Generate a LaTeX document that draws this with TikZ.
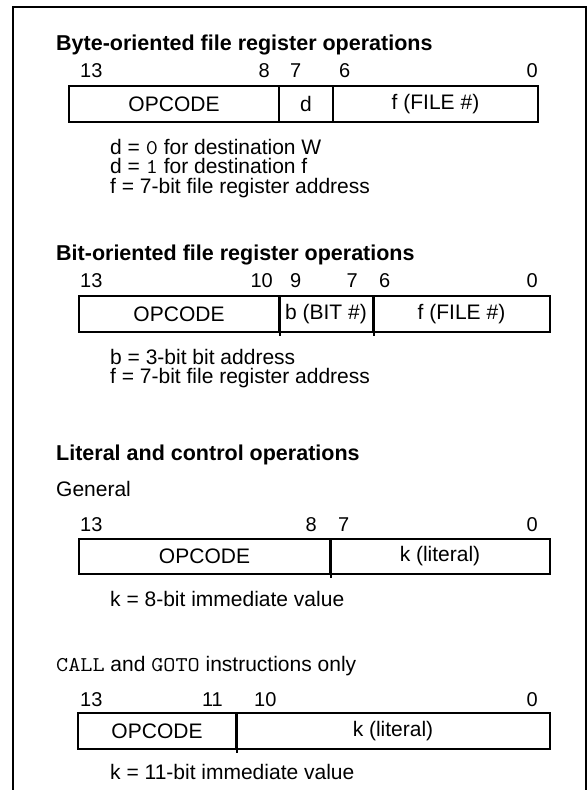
\documentclass[tikz,border=0pt]{standalone}
\usepackage{fontspec}
\setmainfont{Liberation Sans}
\setmonofont[FakeStretch=1.12]{Latin Modern Mono}
\begin{document}
\begin{tikzpicture}[x=1pt,y=-1pt,
  ttl/.style={anchor=base west, font=\bfseries\fontsize{21.5}{25}\selectfont, inner sep=0pt},
  txt/.style={anchor=base west, font=\fontsize{21}{25}\selectfont, inner sep=0pt},
  desc/.style={anchor=north west, align=left, font=\fontsize{21}{19.5}\selectfont, inner sep=0pt},
  bitw/.style={anchor=base west, font=\fontsize{20}{24}\selectfont, inner sep=0pt},
  bite/.style={anchor=base east, font=\fontsize{20}{24}\selectfont, inner sep=0pt},
  cell/.style={draw, line width=2pt, rectangle, inner sep=0pt, anchor=north west,
    font=\fontsize{21}{25}\selectfont},
  divider/.style={line width=1.6pt},
  frame/.style={line width=2pt}]
\useasboundingbox (0,0) rectangle (587,790);
\coordinate (fbl) at (13,790);
\coordinate (ftl) at (13,7);
\coordinate (ftr) at (586,7);
\coordinate (fbr) at (586,790);
\draw[frame] (fbl) -- (ftl) -- (ftr) -- (fbr);

% Section 1
\node[ttl] (t1) at (56,50) {Byte-oriented file register operations};
\node[bitw] (b1a) at (80,77) {13};
\node[bite] (b1b) at (270,77) {8};
\node[bitw] (b1c) at (290,77) {7};
\node[bitw] (b1d) at (339,77) {6};
\node[bite] (b1e) at (538,77) {0};
\node[cell, minimum width=210pt, minimum height=36pt] (r1op) at (68,85) {OPCODE};
\node[cell, minimum width=54pt, minimum height=36pt] (r1d) at (278,85) {d};
\node[cell, minimum width=205pt, minimum height=36pt] (r1f) at (332,85) {f (FILE \#)};
\node[desc] (n1) at (110,139) {d = \texttt{0} for destination W\\ d = \texttt{1} for destination f\\ f = 7-bit file register address};

% Section 2
\node[ttl] (t2) at (56,260) {Bit-oriented file register operations};
\node[bitw] (b2a) at (80,287) {13};
\node[bite] (b2b) at (273,287) {10};
\node[bitw] (b2c) at (290,287) {9};
\node[bite] (b2d) at (358,287) {7};
\node[bitw] (b2e) at (379,287) {6};
\node[bite] (b2f) at (538,287) {0};
\node[cell, minimum width=200pt, minimum height=36pt] (r2op) at (78,295) {OPCODE};
\node[cell, minimum width=94pt, minimum height=36pt] (r2b) at (278,295) {b (BIT \#)};
\node[cell, minimum width=177pt, minimum height=36pt] (r2f) at (372,295) {f (FILE \#)};
\draw[divider] (r2op.north east) -- ([yshift=-3pt]r2op.south east);
\draw[divider] (r2b.north east) -- ([yshift=-3pt]r2b.south east);
\node[desc] (n2) at (110,349) {b = 3-bit bit address\\ f = 7-bit file register address};

% Section 3
\node[ttl] (t3) at (56,460) {Literal and control operations};
\node[txt] (g3) at (56,496) {General};
\node[bitw] (b3a) at (80,531) {13};
\node[bite] (b3b) at (317,531) {8};
\node[bitw] (b3c) at (338,531) {7};
\node[bite] (b3d) at (538,531) {0};
\node[cell, minimum width=251pt, minimum height=35pt] (r3op) at (78,538) {OPCODE};
\node[cell, minimum width=220pt, minimum height=35pt] (r3k) at (329,538) {k (literal)};
\draw[divider] (r3op.north east) -- ([yshift=-3pt]r3op.south east);
\node[txt] (n3a) at (110,606) {k = 8-bit immediate value};

% Section 4
\node[txt] (t4) at (56,671) {\texttt{CALL} and \texttt{GOTO} instructions only};
\node[bitw] (b4a) at (80,706) {13};
\node[bite] (b4b) at (223,706) {11};
\node[bitw] (b4c) at (254,706) {10};
\node[bite] (b4d) at (538,706) {0};
\node[cell, minimum width=158pt, minimum height=36pt] (r4op) at (77,712) {OPCODE};
\node[cell, minimum width=314pt, minimum height=36pt] (r4k) at (235,712) {k (literal)};
\draw[divider] (r4op.north east) -- ([yshift=-3pt]r4op.south east);
\node[txt] (n4a) at (110,779) {k = 11-bit immediate value};
\end{tikzpicture}
\end{document}
